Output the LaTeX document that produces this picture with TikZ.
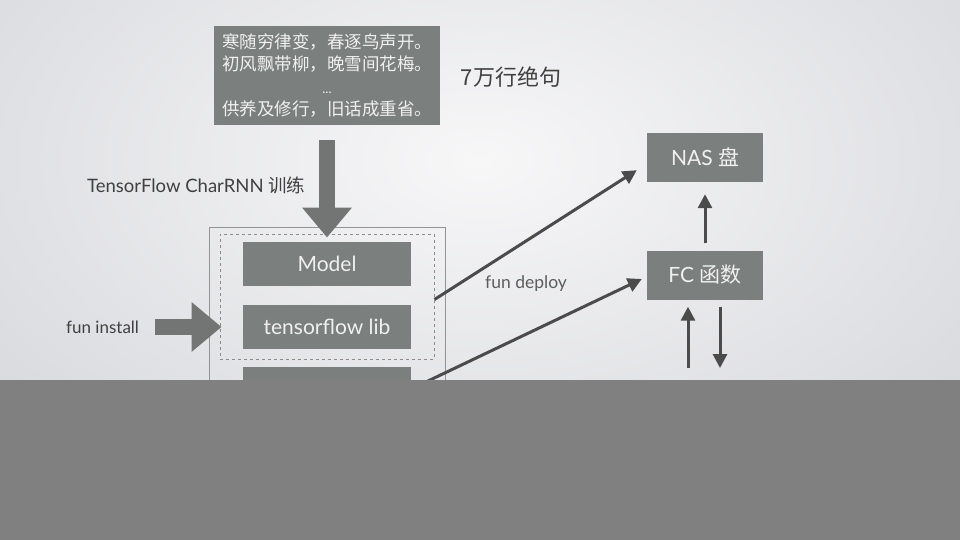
\documentclass[tikz,border=0pt]{standalone}
\usepackage{fontspec}
\setmainfont{Lato}
\newfontfamily\cjk{Noto Sans CJK SC}
\usetikzlibrary{arrows.meta,positioning,calc}

\definecolor{boxgray}{HTML}{7B7F7E}
\definecolor{arrowgray}{HTML}{727574}
\definecolor{linegray}{HTML}{4B4B4B}
\definecolor{textgray}{HTML}{404040}
\definecolor{bandgray}{HTML}{808080}
\definecolor{bginner}{HTML}{F7F7F8}
\definecolor{bgouter}{HTML}{DADBDF}

\begin{document}
\begin{tikzpicture}[
            x=1pt, y=-1pt,
            block/.style={
                fill=boxgray,
                text=white!94!black,
                minimum width=168pt,
                minimum height=44pt,
                font=\fontsize{21}{24}\selectfont
            },
            service/.style={
                fill=boxgray,
                text=white!94!black,
                minimum width=116pt,
                minimum height=49pt,
                font=\fontsize{21}{24}\selectfont
            },
            poembox/.style={
                fill=boxgray,
                text=white!94!black,
                minimum width=226pt,
                minimum height=99pt,
                align=center,
                inner sep=3pt,
                font=\cjk\fontsize{17.5}{22.5}\selectfont
            },
            caption/.style={
                text=textgray,
                inner sep=0pt
            },
            outline/.style={
                draw=gray!85,
                line width=0.8pt
            },
            pkgline/.style={
                draw=gray!90,
                dashed,
                dash pattern=on 3pt off 3pt,
                line width=1pt
            },
            bigarrow/.style={
                draw=arrowgray,
                line width=16pt,
                -{Triangle[length=30pt,width=48pt]}
            },
            thinarrow/.style={
                draw=linegray,
                line width=3pt,
                -{Triangle[length=14pt,width=14pt]}
            }
        ]

            \useasboundingbox (0,0) rectangle (960,540);

            % Background
            \shade[inner color=bginner, outer color=bgouter] (-120,-200) rectangle (1080,520);

            % Layout parameters
            \def\xPkg{327}      % centre of the code package
            \def\xSvc{705}      % centre of NAS / FC column

            % Poems
            \node[poembox] (poem) at (\xPkg, 75.5) {寒随穷律变，春逐鸟声开。\\初风飘带柳，晚雪间花梅。\\{\fontspec{Lato}\fontsize{13}{13}\selectfont ...}\\供养及修行，旧话成重省。};
            \node[caption, font=\cjk\fontsize{22}{24}\selectfont] (count) at (511, 77) {7万行绝句};

            % Code package
            \node[outline, minimum width=236pt, minimum height=193pt] (code) at (\xPkg, 323.5) {};
            \node[pkgline, minimum width=214pt, minimum height=125pt] (pkg) at (\xPkg, 296.5) {};
            \node[block] (model) at (\xPkg, 264) {Model};
            \node[block] (tflib) at (\xPkg, 326.5) {tensorflow lib};
            \node[block] (extra) at (\xPkg, 389) {};

            % Training and install
            \node[caption, font=\fontsize{18.5}{20}\selectfont, anchor=west] (train) at (87, 185) {TensorFlow CharRNN {\cjk 训练}};
            \draw[bigarrow, shorten <=15pt] (poem.south) -- ([yshift=-4pt]pkg.north);

            \node[caption, font=\fontsize{17}{18}\selectfont, anchor=west] (install) at (66, 327) {fun install};
            \draw[bigarrow, shorten <=16pt] (install.east) -- ([xshift=2pt]install.east -| pkg.west);

            % Function compute side
            \node[service] (nas) at (\xSvc, 157.5) {NAS {\cjk 盘}};
            \node[service] (fc) at (\xSvc, 275) {FC {\cjk 函数}};
            \draw[thinarrow, shorten <=7pt, shorten >=12pt] (fc.north) -- (nas.south);

            % Deploy
            \node[caption, text=textgray!85, font=\fontsize{17.5}{20}\selectfont] (deploy) at (526, 284) {fun deploy};
            \draw[thinarrow] ([yshift=-3pt]pkg.east) -- ([shift={(-10,-12)}]nas.south west);
            \draw[thinarrow] (extra.east) -- ([shift={(-5,4)}]fc.west);

            % Requests below FC
            \coordinate (reqin) at (688, 368);
            \coordinate (reqout) at (720, 368);
            \draw[thinarrow, shorten >=7pt] (reqin) -- (reqin |- fc.south);
            \draw[thinarrow, shorten <=7pt] (reqout |- fc.south) -- (reqout);

            % Bottom band
            \fill[bandgray] (0,380) rectangle (960,540);

        \end{tikzpicture}
\end{document}
